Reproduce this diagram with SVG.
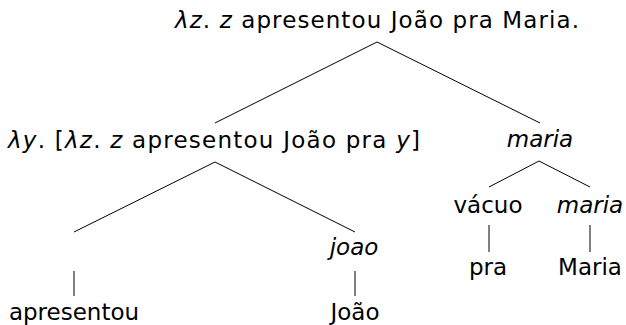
<svg xmlns="http://www.w3.org/2000/svg" width="626" height="325" viewBox="0 0 626 325">
<style>
text{font-family:"DejaVu Sans","Liberation Sans",sans-serif;font-size:23px;fill:#000;text-anchor:middle}
.i{font-style:italic}
.e line{stroke:#000;stroke-width:1}
</style>
<rect width="626" height="325" fill="#fff"/>
<g class="e" id="connectors">
<line x1="377" y1="42" x2="215" y2="123"/>
<line x1="377" y1="42" x2="540" y2="123"/>
<line x1="215" y1="162" x2="74" y2="232"/>
<line x1="215" y1="162" x2="355" y2="232"/>
<line x1="539" y1="161" x2="489" y2="187"/>
<line x1="539" y1="161" x2="590" y2="187"/>
<line x1="74" y1="271" x2="74" y2="296"/>
<line x1="355" y1="271" x2="355" y2="296"/>
<line x1="489" y1="225" x2="489" y2="252"/>
<line x1="590" y1="225" x2="590" y2="252"/>
</g>
<g id="root"><text x="377" y="28" textLength="404" lengthAdjust="spacing"><tspan class="i">λz</tspan>. <tspan class="i">z</tspan> apresentou João pra Maria.</text></g>
<g id="lambday"><text x="214" y="148" textLength="412" lengthAdjust="spacing"><tspan class="i">λy</tspan>. [<tspan class="i">λz</tspan>. <tspan class="i">z</tspan> apresentou João pra <tspan class="i">y</tspan>]</text></g>
<g id="maria1"><text x="540" y="147" class="i">maria</text></g>
<g id="empty"></g>
<g id="joao"><text x="354" y="255" class="i">joao</text></g>
<g id="vacuo"><text x="488" y="213">vácuo</text></g>
<g id="maria2"><text x="590" y="213" class="i">maria</text></g>
<g id="apresentou"><text x="74" y="320">apresentou</text></g>
<g id="Joao"><text x="355" y="320">João</text></g>
<g id="pra"><text x="488" y="275">pra</text></g>
<g id="Maria"><text x="590" y="275">Maria</text></g>
</svg>
